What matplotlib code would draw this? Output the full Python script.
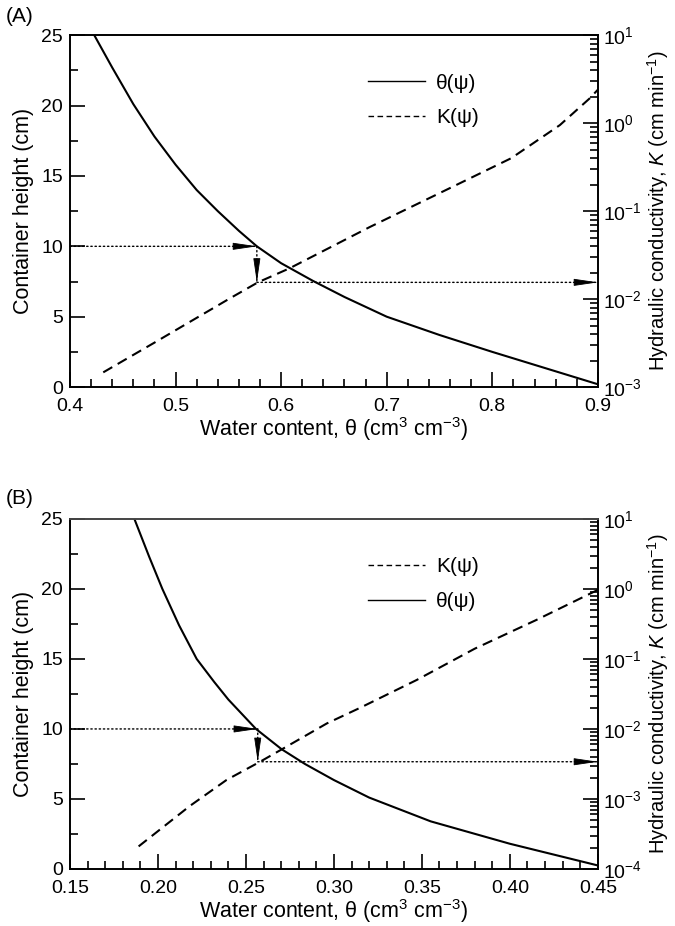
import numpy as np
import matplotlib.pyplot as plt
from matplotlib.ticker import MultipleLocator, LogLocator, NullFormatter, FormatStrFormatter
from matplotlib.lines import Line2D

plt.rcParams['font.family'] = ['Liberation Sans', 'DejaVu Sans']
plt.rcParams['mathtext.fontset'] = 'custom'
plt.rcParams['mathtext.rm'] = 'Liberation Sans'
plt.rcParams['mathtext.it'] = 'Liberation Sans:italic'
plt.rcParams['font.size'] = 13

# ---- panel A data ----
a_theta = [0.423, 0.44, 0.46, 0.48, 0.50, 0.52, 0.54, 0.56, 0.577, 0.60, 0.63, 0.66, 0.70, 0.75, 0.80, 0.85, 0.90]
a_theta_h = [25, 22.7, 20.1, 17.8, 15.8, 14.0, 12.5, 11.1, 10.0, 8.8, 7.55, 6.4, 5.0, 3.7, 2.5, 1.35, 0.2]
a_K_theta = [0.4315, 0.48, 0.5515, 0.578, 0.608, 0.684, 0.75, 0.818, 0.864, 0.892, 0.9]
a_K = [1.47e-3, 3.2e-3, 1.02e-2, 1.55e-2, 2.24e-2, 6.6e-2, 0.16, 0.40, 0.95, 1.9, 2.4]
a_read = (10, 0.577, 1.55e-2)   # height, theta, K

# ---- panel B data ----
b_theta = [0.1866, 0.195, 0.2025, 0.212, 0.222, 0.232, 0.24, 0.2557, 0.2703, 0.2835, 0.30, 0.32, 0.355, 0.40, 0.45]
b_theta_h = [25, 22.3, 20, 17.4, 15, 13.35, 12.1, 10, 8.55, 7.5, 6.35, 5.1, 3.4, 1.8, 0.25]
b_K_theta = [0.189, 0.218, 0.239, 0.258, 0.2703, 0.296, 0.3148, 0.347, 0.38, 0.415, 0.45]
b_K = [2.1e-4, 7.9e-4, 1.87e-3, 3.4e-3, 5.1e-3, 1.2e-2, 2.0e-2, 5.0e-2, 0.14, 0.36, 0.97]
b_read = (10, 0.2567, 3.4e-3)

xlabel = r'Water content, θ (cm$^3$ cm$^{-3}$)'
ylabel = 'Container height (cm)'
y2label = r'Hydraulic conductivity, $K$ (cm min$^{-1}$)'

dash = (0, (5, 3))
dots = (0, (1, 2))


def arrow(ax_tip, tip, ax_tail, tail, off):
    # dotted shaft, then a solid narrow head at the tip
    ax_tip.annotate('', xy=tip, xycoords=ax_tip.transData, xytext=tail, textcoords=ax_tail.transData,
                    arrowprops=dict(arrowstyle='-', color='k', lw=1, ls=dots, shrinkA=0, shrinkB=0))
    ax_tip.annotate('', xy=tip, xycoords=ax_tip.transData, xytext=off, textcoords='offset points',
                    arrowprops=dict(arrowstyle='-|>,head_length=1.5,head_width=0.22', color='k', lw=0.6,
                                    shrinkA=0, shrinkB=0, mutation_scale=10))


def panel(rect, th, th_h, kth, kv, xlim, xmaj, xmin, xfmt, klim, read, order, tag, tagy):
    ax = fig.add_axes(rect)
    ax2 = ax.twinx()
    ax.plot(th, th_h, color='k', lw=1.5)
    ax2.plot(kth, kv, color='k', lw=1.5, ls=dash)
    ax.set_xlim(*xlim)
    ax.set_ylim(0, 25)
    ax2.set_yscale('log')
    ax2.set_ylim(*klim)

    ax.xaxis.set_major_locator(MultipleLocator(xmaj))
    ax.xaxis.set_minor_locator(MultipleLocator(xmin))
    ax.xaxis.set_major_formatter(FormatStrFormatter(xfmt))
    ax.yaxis.set_major_locator(MultipleLocator(5))
    ax.yaxis.set_minor_locator(MultipleLocator(2.5))
    ax.tick_params(which='both', direction='in', top=False, right=False, width=1.2)
    ax.tick_params(which='major', length=11, labelsize=14)
    ax.tick_params(axis='x', which='major', pad=8)
    ax.tick_params(axis='y', which='major', pad=5)
    ax.tick_params(which='minor', length=6)

    ax2.yaxis.set_major_locator(LogLocator(base=10, numticks=10))
    ax2.yaxis.set_minor_locator(LogLocator(base=10, subs=np.arange(2, 10), numticks=20))
    ax2.yaxis.set_minor_formatter(NullFormatter())
    ax2.tick_params(which='both', direction='in', width=1.2)
    ax2.tick_params(which='major', length=11, labelsize=14, pad=4)
    ax2.tick_params(which='minor', length=6)
    for a in (ax, ax2):
        for s in a.spines.values():
            s.set_linewidth(1.2)

    ax.set_xlabel(xlabel, fontsize=15.5, labelpad=0)
    ax.set_ylabel(ylabel, fontsize=15.5, labelpad=5)
    ax2.set_ylabel(y2label, fontsize=14.5, labelpad=2)

    h0, th0, k0 = read
    arrow(ax, (th0, h0), ax, (xlim[0], h0), (-15, 0))
    arrow(ax2, (th0, k0), ax, (th0, h0), (0, 16))
    arrow(ax2, (xlim[1], k0), ax2, (th0, k0), (-15, 0))

    hs = {'theta': Line2D([], [], color='k', lw=1), 'K': Line2D([], [], color='k', lw=1, ls=(0, (4, 2.5)))}
    labs = {'theta': 'θ(ψ)', 'K': 'K(ψ)'}
    ax2.legend([hs[o] for o in order], [labs[o] for o in order], loc='upper left',
               bbox_to_anchor=(0.545, 0.92), frameon=False, fontsize=15,
               handlelength=2.75, handletextpad=0.5, labelspacing=0.75, borderpad=0)
    fig.text(0.008, tagy, tag, fontsize=15, va='center', ha='left')
    return ax, ax2


fig = plt.figure(figsize=(6.75, 9.26), dpi=100)

panel([0.1037, 0.582, 0.782, 0.380], a_theta, a_theta_h, a_K_theta, a_K,
      (0.4, 0.9), 0.1, 0.02, '%.1f', (1e-3, 1e1), a_read, ['theta', 'K'], '(A)', 0.982)
axB, axB2 = panel([0.1037, 0.0616, 0.782, 0.378], b_theta, b_theta_h, b_K_theta, b_K,
                  (0.15, 0.45), 0.05, 0.01, '%.2f', (1e-4, 1e1), b_read, ['K', 'theta'], '(B)', 0.462)
axB2.spines['top'].set_color('#505050')

fig.savefig('out.png', dpi=100)
